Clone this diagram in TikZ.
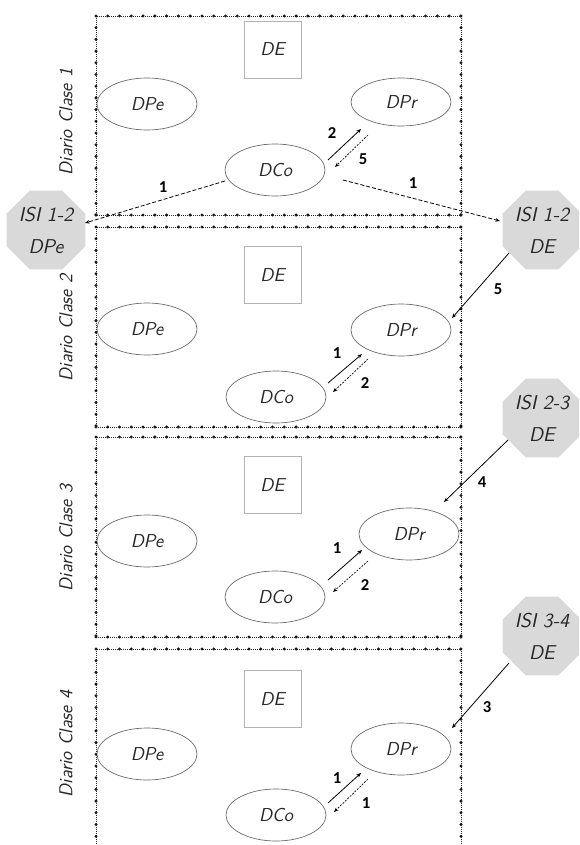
\documentclass[tikz,border=0pt]{standalone}
\usepackage{fontspec}
\newfontfamily\numfont{Carlito}
\usetikzlibrary{shapes.geometric,arrows.meta}
\begin{document}
\begin{tikzpicture}[x=0.75pt,y=-0.75pt,
  hand/.style={font=\sffamily\itshape\fontsize{14}{16}\selectfont, text=black!85},
  ell/.style={ellipse, draw=black!60, line width=0.5pt, minimum width=75pt, minimum height=39pt, inner sep=0pt, hand},
  debox/.style={rectangle, draw=black!30, line width=0.6pt, minimum width=42.75pt, minimum height=42.75pt, inner sep=0pt, hand},
  isi/.style={regular polygon, regular polygon sides=8, fill=black!15, draw=none, minimum size=64pt, inner sep=0pt, align=center, text=black!85, font=\sffamily\itshape\fontsize{15}{24}\selectfont},
  num/.style={font=\numfont\bfseries\fontsize{12.5}{13}\selectfont, inner sep=0pt},
  frthin/.style={line width=0.6pt, dash pattern=on 0.7pt off 0.8pt, black!85},
  dotc/.style={fill=black!90},
  side/.style={rotate=90, text=black!85, font=\sffamily\itshape\fontsize{14}{15}\selectfont},
  arr/.style={-{Stealth[length=3.5pt,width=2.8pt]}, line width=0.6pt},
  darr/.style={arr, dash pattern=on 1.5pt off 1pt, line width=0.5pt},
  larr/.style={arr, dash pattern=on 3pt off 1.5pt, line width=0.6pt}
]
\useasboundingbox (0,0) rectangle (579,845);
\clip (0,0) rectangle (579,845);

% frames
\foreach \t/\b in {16/215, 227/427, 437/637, 649/870}{
  \draw[frthin] (96,\t) rectangle (461,\b);
  \foreach \x in {96,107.77,...,462}{
    \fill[dotc] (\x,\t) circle[radius=1.25pt];
    \fill[dotc] (\x,\b) circle[radius=1.25pt];
  }
  \pgfmathsetmacro{\tt}{\t+11.7}
  \pgfmathsetmacro{\ts}{\t+23.4}
  \foreach \y in {\tt,\ts,...,\b}{
    \fill[dotc] (96,\y) circle[radius=1.25pt];
    \fill[dotc] (461,\y) circle[radius=1.25pt];
  }
}

% side labels
\node[side] (lab1) at (66,122) {Diario Clase 1};
\node[side] (lab2) at (66,328) {Diario Clase 2};
\node[side] (lab3) at (66,538) {Diario Clase 3};
\node[side] (lab4) at (66,744) {Diario Clase 4};

% box 1
\node[debox, fill=white] (de1) at (272.5,49.5) {DE};
\node[ell, fill=white] (dpe1) at (147,104) {DPe};
\node[ell, minimum height=36pt, fill=white] (dpr1) at (401,102) {DPr};
\node[ell, fill=white] (dco1) at (275,170) {DCo};
% box 2
\node[debox] (de2) at (272.5,275) {DE};
\node[ell, fill=white] (dpe2) at (147,329) {DPe};
\node[ell] (dpr2) at (401,330) {DPr};
\node[ell] (dco2) at (276,397) {DCo};
% box 3
\node[debox] (de3) at (272.5,485) {DE};
\node[ell, fill=white] (dpe3) at (147,541) {DPe};
\node[ell, fill=white] (dpr3) at (409,534) {DPr};
\node[ell] (dco3) at (275,597) {DCo};
% box 4
\node[debox] (de4) at (272.5,699) {DE};
\node[ell, fill=white] (dpe4) at (147,754) {DPe};
\node[ell] (dpr4) at (401,749) {DPr};
\node[ell] (dco4) at (276,815) {DCo};

% ISI nodes
\node[isi] (isiL) at (46,230) {ISI 1-2\\DPe};
\node[isi] (isiA) at (542,230) {ISI 1-2\\DE};
\node[isi] (isiB) at (542,418) {ISI 2-3\\DE};
\node[isi] (isiC) at (542,636) {ISI 3-4\\DE};

% box 1 arrows
\coordinate (a1s) at (328,160); \coordinate (a1e) at (361,129);
\coordinate (b1s) at (368,135); \coordinate (b1e) at (335,167);
\draw[arr] (a1s) -- (a1e);
\draw[darr] (b1s) -- (b1e);
\node[num] (n12) at (332,133) {2};
\node[num] (n15) at (363,159) {5};
% long dashed from DCo 1
\coordinate (l1s) at (343,180); \coordinate (l1e) at (500,221);
\coordinate (l2s) at (225,181); \coordinate (l2e) at (85,223);
\draw[larr] (l1s) -- (l1e);
\draw[larr] (l2s) -- (l2e);
\node[num] (n1r) at (413,183) {1};
\node[num] (n1l) at (163,187) {1};

% box 2 arrows
\coordinate (a2s) at (328,383); \coordinate (a2e) at (362,354);
\coordinate (b2s) at (368,359); \coordinate (b2e) at (333,392);
\draw[arr] (a2s) -- (a2e);
\draw[darr] (b2s) -- (b2e);
\node[num] (n21) at (337,353) {1};
\node[num] (n22) at (365,383) {2};

% box 3 arrows
\coordinate (a3s) at (328,580); \coordinate (a3e) at (362,550);
\coordinate (b3s) at (368,561); \coordinate (b3e) at (333,592);
\draw[arr] (a3s) -- (a3e);
\draw[darr] (b3s) -- (b3e);
\node[num] (n31) at (337,548) {1};
\node[num] (n32) at (365,585) {2};

% box 4 arrows
\coordinate (a4s) at (328,803); \coordinate (a4e) at (361,773);
\coordinate (b4s) at (368,779); \coordinate (b4e) at (334,812);
\draw[arr] (a4s) -- (a4e);
\draw[darr] (b4s) -- (b4e);
\node[num] (n41) at (337,778) {1};
\node[num] (n42) at (366,803) {1};

% ISI to DPr arrows
\coordinate (i5s) at (509,253); \coordinate (i5e) at (452,318);
\draw[arr] (i5s) -- (i5e);
\node[num] (n5) at (498,289) {5};
\coordinate (i4s) at (508,440); \coordinate (i4e) at (444,502);
\draw[arr] (i4s) -- (i4e);
\node[num] (n4) at (482,482) {4};
\coordinate (i3s) at (509,663); \coordinate (i3e) at (452,728);
\draw[arr] (i3s) -- (i3e);
\node[num] (n3) at (487,707) {3};
\end{tikzpicture}
\end{document}
